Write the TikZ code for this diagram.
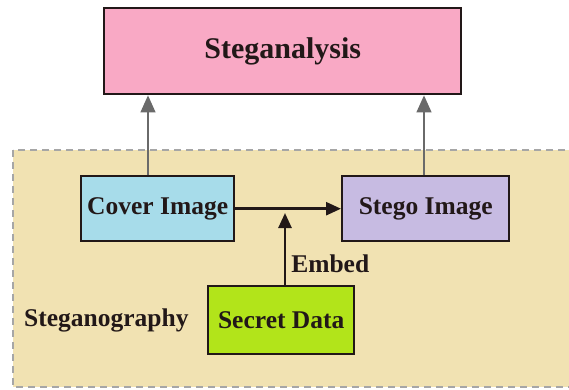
\documentclass[tikz,border=0pt]{standalone}
\usepackage{fontspec}
\setmainfont{Liberation Serif}
\usetikzlibrary{arrows.meta}
\definecolor{bgbeige}{HTML}{F1E2B2}
\definecolor{pinkbox}{HTML}{F9A9C5}
\definecolor{bluebox}{HTML}{A7DCEA}
\definecolor{lavbox}{HTML}{C7BBE2}
\definecolor{greenbox}{HTML}{B2E41A}
\definecolor{txt}{HTML}{221818}
\definecolor{grayline}{HTML}{6A6A6A}
\tikzset{
  box/.style={draw=txt, line width=2.4pt, inner sep=0pt, text=txt, font=\bfseries\fontsize{25.5}{29}\selectfont},
  grayarrow/.style={draw=grayline, line width=1.3pt, -{Triangle[length=17pt,width=15pt]}, fill=grayline},
  blackarrow/.style={draw=txt, line width=2.6pt, -{Triangle[length=15pt,width=13pt]}},
  lbl/.style={text=txt, font=\bfseries\fontsize{25.5}{29}\selectfont, inner sep=0pt}
}
\begin{document}
\begin{tikzpicture}[x=1pt,y=-1pt]
\useasboundingbox (0,0) rectangle (569,389);
\clip (0,0) rectangle (569,389);
\fill[white] (0,0) rectangle (569,389);
\draw[fill=bgbeige, draw=gray!70, line width=1.4pt, dash pattern=on 7pt off 5pt] (13,150) rectangle (580,387);
\node[box, fill=pinkbox, minimum width=357pt, minimum height=86pt, anchor=north west,
  font=\bfseries\fontsize{30}{34}\selectfont] (ana) at (103,7) {Steganalysis};
\node[box, fill=bluebox, minimum width=153pt, minimum height=65pt, anchor=north west] (cover) at (80,175) {Cover Image};
\node[box, fill=lavbox, minimum width=167pt, minimum height=65pt, anchor=north west] (stego) at (341,175) {Stego Image};
\node[box, fill=greenbox, minimum width=146pt, minimum height=68pt, anchor=north west] (secret) at (207,285) {Secret Data};
\node[lbl, anchor=west] (steg) at (24,320) {Steganography};
\coordinate (join) at (285,213);
\draw[grayarrow] (cover.north -| 148,0) -- (ana.south -| 148,0);
\draw[grayarrow] (stego.north -| 424,0) -- (ana.south -| 424,0);
\draw[blackarrow] (cover.east) -- (stego.west);
\draw[blackarrow] (secret.north -| join) -- node[lbl, anchor=west, pos=0.3, xshift=5pt] (emb) {Embed} (join);
\end{tikzpicture}
\end{document}
